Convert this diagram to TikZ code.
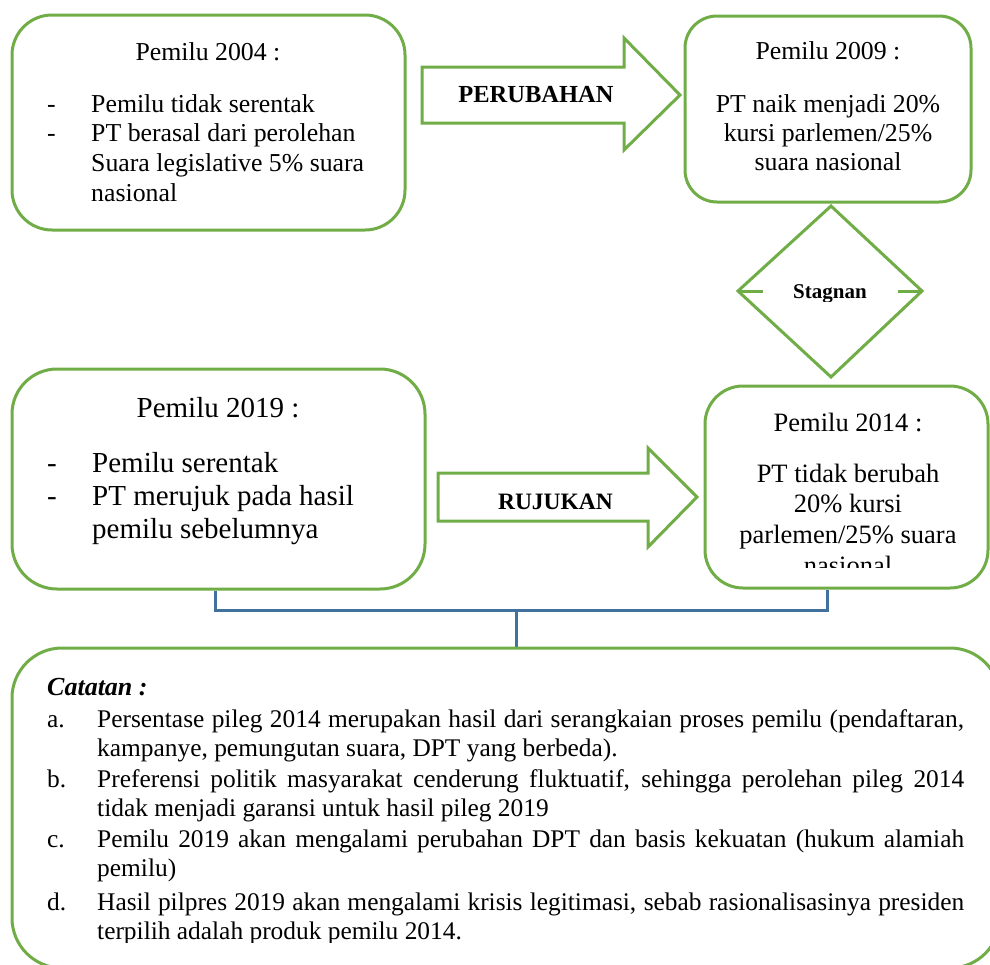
\documentclass[tikz,border=0pt]{standalone}
\usepackage{fontspec}
\setmainfont{Liberation Serif}
\usetikzlibrary{calc}
\definecolor{gr}{HTML}{70AD47}
\definecolor{bl}{HTML}{41719C}
\begin{document}
\begin{tikzpicture}[x=1pt,y=-1pt,
  box/.style={draw=gr, line width=3pt, fill=white, rounded corners=#1, inner sep=0pt},
  box/.default=40pt,
  shape arrow/.style={draw=gr, line width=3pt, fill=white, line join=miter},
  conn/.style={draw=bl, line width=3pt},
  txt/.style={inner sep=0pt, anchor=base, font=\fontsize{25.8pt}{30pt}\selectfont},
  txtw/.style={txt, anchor=base west},
  nt/.style={inner sep=0pt, anchor=base west, font=\fontsize{25.4pt}{30pt}\selectfont},
  big/.style={font=\fontsize{29pt}{33pt}\selectfont},
  mid/.style={font=\fontsize{26.5pt}{30pt}\selectfont},
  lbl/.style={inner sep=0pt, anchor=base, font=\bfseries\fontsize{24.5pt}{28pt}\selectfont},
]
\clip (0,0) rectangle (990,964);

% boxes
\node[box=40pt, minimum width=393pt, minimum height=215pt] (b2004) at (208.5,122.5) {};
\node[box=32pt, minimum width=286pt, minimum height=186pt] (b2009) at (828,109) {};
\node[box=45pt, minimum width=413pt, minimum height=220pt] (b2019) at (218.5,479) {};
\node[box=38pt, minimum width=283pt, minimum height=202pt] (b2014) at (846.5,487) {};

% connectors
\coordinate (j1) at (215,610);
\coordinate (j2) at (516,610);
\draw[conn] ([xshift=-3.5pt]b2019.south) |- (j1) -| ([xshift=-19.5pt]b2014.south);
\draw[conn] (j2) -- (516,650);

\node[box=50pt, minimum width=988pt, minimum height=320pt] (notes) at (506,808) {};

% block arrows
\draw[shape arrow] (422,67) -- (624,67) -- (624,38) -- (680,95) -- (624,150) -- (624,123) -- (422,123) -- cycle;
\draw[shape arrow] (438,473) -- (648,473) -- (648,448) -- (697,497) -- (648,547) -- (648,521) -- (438,521) -- cycle;
\node[lbl] (perubahan) at (536,102) {PERUBAHAN};
\begin{scope}
\clip (440,470) rectangle (645,510.5);
\node[lbl, font=\bfseries\fontsize{23.5pt}{28pt}\selectfont] (rujukan) at (555.5,509) {RUJUKAN};
\end{scope}

% diamond
\draw[draw=gr, line width=3pt, fill=white, line join=miter] (831,206) -- (922,291) -- (831,377) -- (738,291) -- cycle;
\draw[draw=gr, line width=3pt] (738,291) -- (763,291) (898,291) -- (922,291);
\begin{scope}
\clip (770,270) rectangle (890,301);
\node[lbl, font=\bfseries\fontsize{21pt}{25pt}\selectfont] (stagnan) at (830,298) {Stagnan};
\end{scope}

% Pemilu 2004
\node[txt] (h2004) at (208,60) {Pemilu 2004 :};
\node[txtw] (d2004a) at (47,112) {-};
\node[txtw] (d2004b) at (47,141) {-};
\node[txtw] (i2004a) at (91,112) {Pemilu tidak serentak};
\node[txtw] (i2004b) at (91,141) {PT berasal dari perolehan};
\node[txtw] (i2004c) at (91,171) {Suara legislative 5\% suara};
\node[txtw] (i2004d) at (91,201) {nasional};

% Pemilu 2009
\node[txt] (h2009) at (828,59) {Pemilu 2009 :};
\node[txt] (l2009a) at (828,112) {PT naik menjadi 20\%};
\node[txt] (l2009b) at (828,141) {kursi parlemen/25\%};
\node[txt] (l2009c) at (828,170) {suara nasional};

% Pemilu 2019
\node[txt, big] (h2019) at (218,417) {Pemilu 2019 :};
\node[txtw, big] (d2019a) at (47,472) {-};
\node[txtw, big] (d2019b) at (47,505) {-};
\node[txtw, big] (i2019a) at (92,472) {Pemilu serentak};
\node[txtw, big] (i2019b) at (92,505) {PT merujuk pada hasil};
\node[txtw, big] (i2019c) at (92,538) {pemilu sebelumnya};

% Pemilu 2014
\node[txt, mid] (h2014) at (848,431) {Pemilu 2014 :};
\node[txt, mid] (l2014a) at (848,482) {PT tidak berubah};
\node[txt, mid] (l2014b) at (848,512) {20\% kursi};
\node[txt, mid] (l2014c) at (848,543) {parlemen/25\% suara};
\begin{scope}
\clip (720,550) rectangle (980,567.5);
\node[txt, mid] (l2014d) at (848,574) {nasional};
\end{scope}

% Catatan
\node[nt, font=\bfseries\itshape\fontsize{26pt}{30pt}\selectfont] (cat) at (47,695) {Catatan :};
\node[nt] (la) at (47,727) {a.};
\node[nt] (lb) at (47,787) {b.};
\node[nt] (lc) at (47,847) {c.};
\node[nt] (ld) at (47,910) {d.};
\node[nt] (na1) at (97,727) {\makebox[867pt][s]{Persentase pileg 2014 merupakan hasil dari serangkaian proses pemilu (pendaftaran,}};
\node[nt] (na2) at (97,756) {kampanye, pemungutan suara, DPT yang berbeda).};
\node[nt] (nb1) at (97,787) {\makebox[867pt][s]{Preferensi politik masyarakat cenderung fluktuatif, sehingga perolehan pileg 2014}};
\node[nt] (nb2) at (97,816) {tidak menjadi garansi untuk hasil pileg 2019};
\node[nt] (nc1) at (97,847) {\makebox[867pt][s]{Pemilu 2019 akan mengalami perubahan DPT dan basis kekuatan (hukum alamiah}};
\node[nt] (nc2) at (97,876) {pemilu)};
\node[nt] (nd1) at (97,910) {\makebox[867pt][s]{Hasil pilpres 2019 akan mengalami krisis legitimasi, sebab rasionalisasinya presiden}};
\begin{scope}
\clip (90,915) rectangle (980,942);
\node[nt] (nd2) at (97,939) {terpilih adalah produk pemilu 2014.};
\end{scope}
\end{tikzpicture}
\end{document}
